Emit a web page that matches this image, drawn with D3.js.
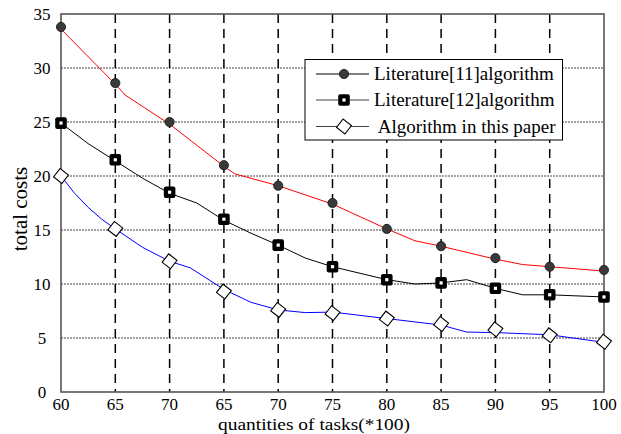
<!DOCTYPE html>
<html>
<head>
<meta charset="utf-8">
<script src="https://cdn.jsdelivr.net/npm/d3@7"></script>
<style>
  body { margin: 0; background: #fff; }
  text { font-family: "Liberation Serif", "Times New Roman", serif; fill: #000; }
</style>
</head>
<body>
<div id="chart"></div>
<script>
// x categories (the repeated labels are as printed on the original axis)
var xLabels = ["60","65","70","65","70","75","80","85","90","95","100"];
var yTicks = [0,5,10,15,20,25,30,35];

// marker values, one per category
var lit11Marks = [33.8,28.6,25.0,21.0,19.1,17.5,15.1,13.5,12.4,11.6,11.3];
var lit12Marks = [24.9,21.5,18.5,16.0,13.6,11.6,10.4,10.1,9.6,9.0,8.8];
var oursMarks  = [20.0,15.1,12.1,9.3,7.6,7.3,6.8,6.3,5.8,5.25,4.65];

// line vertices [category index, value]
var lit11Line = [[0,33.6],[1,28.5],[1.18,27.5],[2,24.8],[3,20.9],[3.2,20.2],[4,19.1],[5,17.4],
                 [6,15.1],[6.52,14.0],[7,13.5],[8,12.3],[8.5,11.8],[9,11.6],[10,11.2]];
var lit12Line = [[0,24.9],[0.5,23.0],[1,21.4],[1.5,19.8],[2,18.4],[2.5,17.5],[3,15.9],[3.5,14.7],[4,13.6],
                 [4.5,12.4],[5,11.6],[6,10.4],[6.52,10.0],[7,10.1],[7.47,10.4],[8,9.6],[8.5,9.0],[9,9.0],[10,8.8]];
var oursLine  = [[0,20.0],[0.25,18.4],[0.5,17.1],[0.75,16.0],[1,15.1],[1.5,13.4],[2,12.1],[2.38,11.5],[3,9.5],[3.5,8.3],[4,7.6],
                 [4.5,7.35],[5,7.4],[6,6.8],[7,6.2],[7.47,5.55],[8,5.5],[9,5.3],[10,4.6]];

var legendNames = ["Literature[11]algorithm","Literature[12]algorithm"," Algorithm in this paper"];

var width = 621, height = 434;
var plotLeft = 61, plotRight = 604, plotTop = 14, plotBottom = 392;

var svg = d3.select("#chart").append("svg")
  .attr("width", width).attr("height", height);

var x = d3.scaleLinear().domain([0, xLabels.length-1]).range([plotLeft, plotRight]);
var y = d3.scaleLinear().domain([0, 35]).range([plotBottom, plotTop]);

// horizontal dotted grid
svg.append("g").selectAll("line").data(yTicks.filter(function(d){ return d>0 && d<35; }))
  .enter().append("line")
  .attr("x1", plotLeft).attr("x2", plotRight)
  .attr("y1", function(d){ return y(d); }).attr("y2", function(d){ return y(d); })
  .attr("stroke", "#444").attr("stroke-width", 1)
  .attr("stroke-dasharray", "2,1");

// vertical dashed grid
svg.append("g").selectAll("line").data(d3.range(1, xLabels.length-1))
  .enter().append("line")
  .attr("x1", function(d){ return x(d); }).attr("x2", function(d){ return x(d); })
  .attr("y1", plotTop).attr("y2", plotBottom)
  .attr("stroke", "#000").attr("stroke-width", 1.5)
  .attr("stroke-dasharray", "9,6");

// frame
svg.append("rect")
  .attr("x", plotLeft).attr("y", plotTop)
  .attr("width", plotRight-plotLeft).attr("height", plotBottom-plotTop)
  .attr("fill", "none").attr("stroke", "#555").attr("stroke-width", 1.6);

// tick labels
svg.append("g").selectAll("text").data(yTicks).enter().append("text")
  .attr("x", 42).attr("y", function(d){ return y(d); })
  .attr("dy", "0.33em")
  .attr("text-anchor", "middle")
  .attr("font-size", "17px")
  .text(function(d){ return d; });

svg.append("g").selectAll("text").data(xLabels).enter().append("text")
  .attr("x", function(d,i){ return x(i); }).attr("y", 410)
  .attr("text-anchor", "middle")
  .attr("font-size", "17px")
  .text(function(d){ return d; });

// axis titles
svg.append("text")
  .attr("x", 314).attr("y", 430)
  .attr("text-anchor", "middle")
  .attr("font-size", "17.5px")
  .attr("textLength", 192)
  .attr("lengthAdjust", "spacingAndGlyphs")
  .text("quantities of tasks(*100)");

svg.append("text")
  .attr("transform", "translate(27 209) rotate(-90)")
  .attr("text-anchor", "middle")
  .attr("font-size", "21px")
  .text("total costs");

// lines
var line = d3.line()
  .x(function(d){ return x(d[0]); })
  .y(function(d){ return y(d[1]); });

var series = [
  {line: lit11Line, marks: lit11Marks, color: "#ff0000", type: "circle"},
  {line: lit12Line, marks: lit12Marks, color: "#000000", type: "square"},
  {line: oursLine,  marks: oursMarks,  color: "#0000ff", type: "diamond"}
];

series.forEach(function(s) {
  svg.append("path").datum(s.line)
    .attr("d", line)
    .attr("fill", "none")
    .attr("stroke", s.color)
    .attr("stroke-width", 1);
});

function drawMarker(g, type, cx, cy) {
  if(type=="circle") {
    g.append("circle").attr("cx", cx).attr("cy", cy).attr("r", 4.6)
      .attr("fill", "#3a3a3a").attr("stroke", "#111").attr("stroke-width", 0.8);
  } else if(type=="square") {
    g.append("rect").attr("x", cx-5.8).attr("y", cy-5.8)
      .attr("width", 11.6).attr("height", 11.6).attr("rx", 2)
      .attr("fill", "#000");
    g.append("rect").attr("x", cx-1.6).attr("y", cy-1.6)
      .attr("width", 3.2).attr("height", 3.2)
      .attr("fill", "#fff");
  } else {
    g.append("rect").attr("x", -5.3).attr("y", -5.3)
      .attr("width", 10.6).attr("height", 10.6)
      .attr("transform", "translate("+cx+" "+cy+") rotate(38)")
      .attr("fill", "#fff").attr("stroke", "#000").attr("stroke-width", 1.1);
  }
}

series.forEach(function(s) {
  var g = svg.append("g");
  s.marks.forEach(function(v, i) {
    drawMarker(g, s.type, x(i), y(v));
  });
});

// legend
var lg = svg.append("g");
lg.append("rect")
  .attr("x", 305).attr("y", 59.5)
  .attr("width", 257.5).attr("height", 80.5)
  .attr("fill", "#fff").attr("stroke", "#000").attr("stroke-width", 1);

var rowY = [74, 100, 126.5];
var legendLineColors = ["#000", "#444", "#444"];
legendNames.forEach(function(name, i) {
  lg.append("line")
    .attr("x1", 316).attr("x2", 369)
    .attr("y1", rowY[i]).attr("y2", rowY[i])
    .attr("stroke", legendLineColors[i]).attr("stroke-width", 1);
  drawMarker(lg, series[i].type, 344, rowY[i]);
  lg.append("text")
    .attr("x", 374).attr("y", rowY[i])
    .attr("dy", "0.33em")
    .attr("font-size", "19px")
    .style("white-space", "pre")
    .text(name);
});
</script>
</body>
</html>
